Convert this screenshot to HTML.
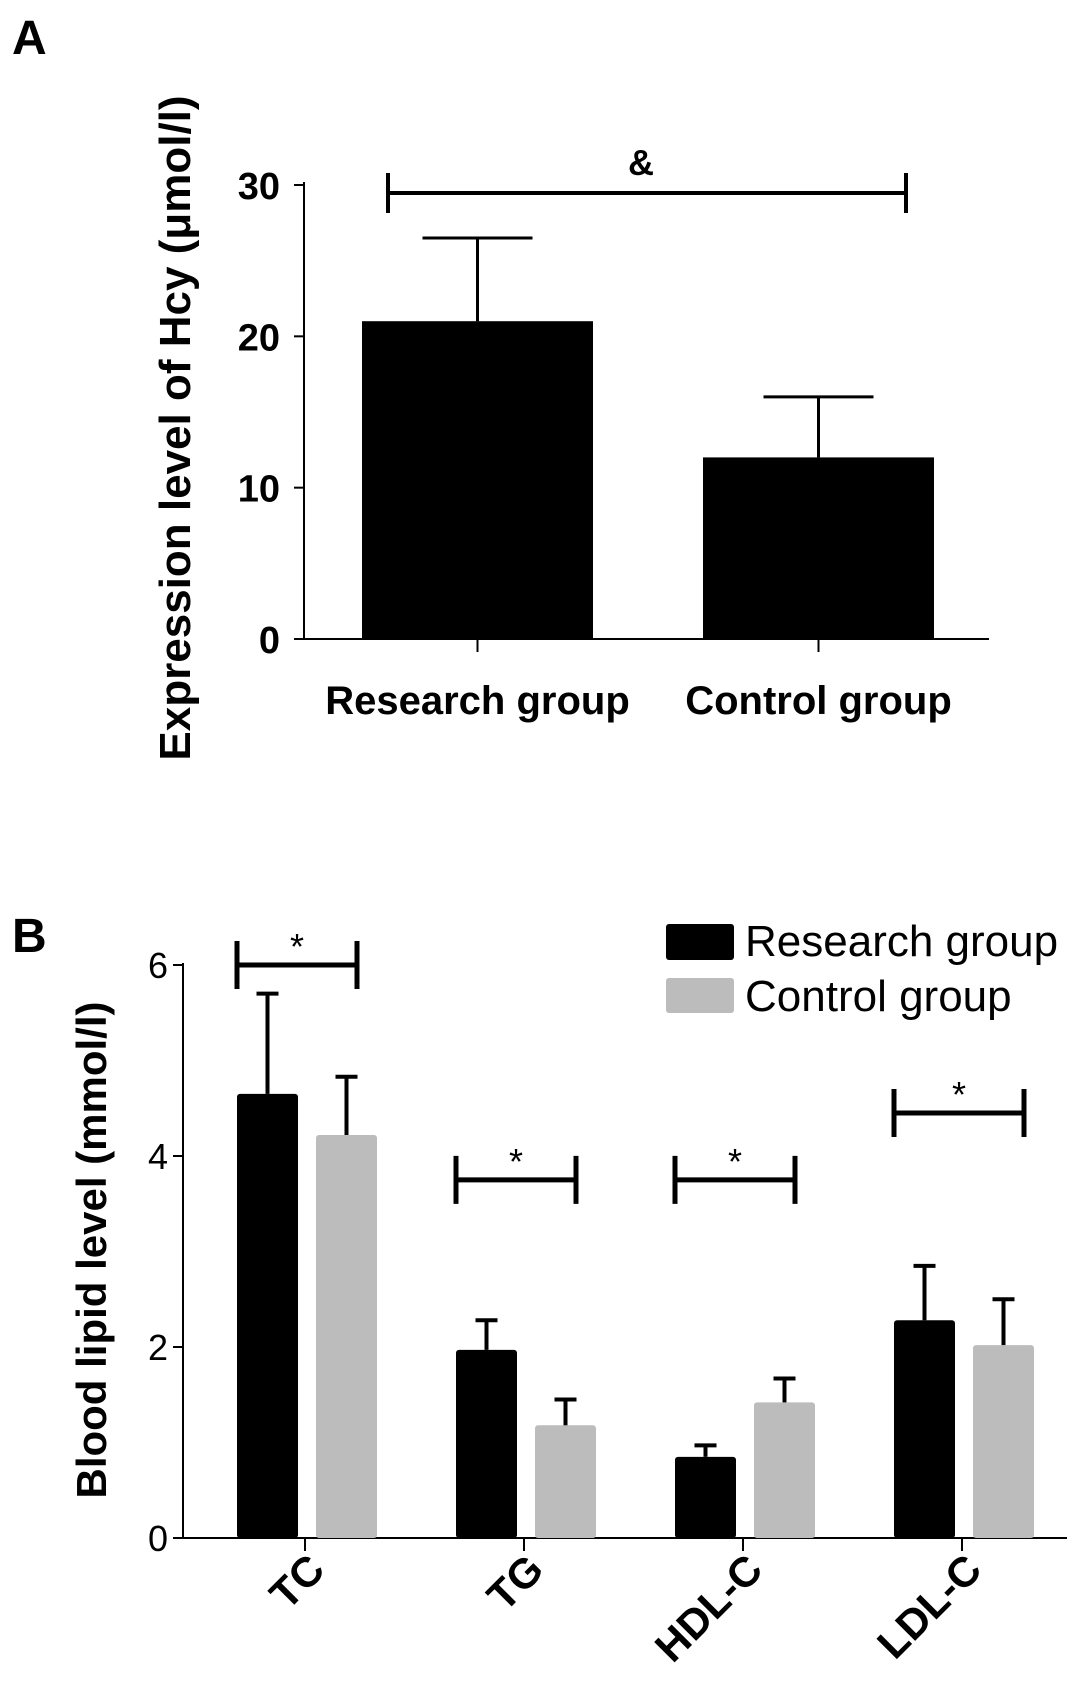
<!DOCTYPE html>
<html><head><meta charset="utf-8"><style>
html,body{margin:0;padding:0;background:#fff;}
svg{display:block;font-family:"Liberation Sans",sans-serif;}
</style></head><body>
<svg id="chart" width="1087" height="1701" viewBox="0 0 1087 1701" xmlns="http://www.w3.org/2000/svg">
<text x="12" y="54" font-size="48" font-weight="bold">A</text>
<text x="12" y="952" font-size="48" font-weight="bold">B</text>
<g id="pa"></g>
<g id="pb"></g>
</svg>
<script>
const aCategories = ["Research group", "Control group"];
const aValues = [21, 12];
const aErrors = [26.5, 16];
const aTicks = [0, 10, 20, 30];

const bCategories = ["TC", "TG", "HDL-C", "LDL-C"];
const bResearch = [4.65, 1.97, 0.85, 2.28];
const bResearchErr = [5.7, 2.28, 0.97, 2.85];
const bControl = [4.22, 1.18, 1.42, 2.02];
const bControlErr = [4.83, 1.45, 1.67, 2.5];
const bTicks = [0, 2, 4, 6];
const bSigLevels = [6.0, 3.75, 3.75, 4.45];

const NS = "http://www.w3.org/2000/svg";
function mk(parent, tag, attrs, text) {
  const e = document.createElementNS(NS, tag);
  for (const k in attrs) e.setAttribute(k, attrs[k]);
  if (text !== undefined) e.textContent = text;
  parent.appendChild(e);
  return e;
}

// Panel A
const pa = document.getElementById("pa");
const ayA = v => 639 - v * (639 - 185) / 30;
const aLeft = [362, 703], aW = 231;
let e = mk(pa, "line", {x1: 304, y1: 182, x2: 304, y2: 639, stroke: "#000", "stroke-width": 2});


e = mk(pa, "line", {x1: 294, y1: 639, x2: 989, y2: 639, stroke: "#000", "stroke-width": 2});


aTicks.forEach(t => {
  const y = ayA(t);
  mk(pa, "line", {x1: 294, y1: y, x2: 304, y2: y, stroke: "#000", "stroke-width": 2});
  e = mk(pa, "text", {x: 280, y: y + 14, "font-size": 38, "font-weight": "bold", "text-anchor": "end"}, t);
  
  
});
aCategories.forEach((c, i) => {
  const x = aLeft[i], cx = x + aW / 2;
  e = mk(pa, "rect", {x: x, y: ayA(aValues[i]), width: aW, height: ayA(0) - ayA(aValues[i]), fill: "#000"});
  
  
  mk(pa, "line", {x1: cx, y1: ayA(aValues[i]), x2: cx, y2: ayA(aErrors[i]), stroke: "#000", "stroke-width": 3});
  mk(pa, "line", {x1: cx - 55, y1: ayA(aErrors[i]), x2: cx + 55, y2: ayA(aErrors[i]), stroke: "#000", "stroke-width": 3});
  mk(pa, "line", {x1: cx, y1: 639, x2: cx, y2: 652, stroke: "#000", "stroke-width": 2});
  e = mk(pa, "text", {x: cx, y: 714, "font-size": 40, "font-weight": "bold", "text-anchor": "middle"}, c);
  
  
});
e = mk(pa, "path", {d: "M388 193 L906 193 M388 173 L388 213 M906 173 L906 213", stroke: "#000", "stroke-width": 4, fill: "none"});


mk(pa, "text", {x: 641, y: 175, "font-size": 36, "font-weight": "bold", "text-anchor": "middle"}, "&");
e = mk(pa, "text", {x: 0, y: 0, "font-size": 44, "font-weight": "bold", "text-anchor": "middle", transform: "translate(190,428) rotate(-90)"}, "Expression level of Hcy  (μmol/l)");



// Panel B
const pb = document.getElementById("pb");
const ayB = v => 1538 - v * (1538 - 965) / 6;
const groupX = [305, 524, 743, 962];
const bw = 61;
e = mk(pb, "line", {x1: 183, y1: 963, x2: 183, y2: 1538, stroke: "#000", "stroke-width": 2});


e = mk(pb, "line", {x1: 173, y1: 1538, x2: 1067, y2: 1538, stroke: "#000", "stroke-width": 2});


bTicks.forEach(t => {
  const y = ayB(t);
  mk(pb, "line", {x1: 173, y1: y, x2: 183, y2: y, stroke: "#000", "stroke-width": 2});
  e = mk(pb, "text", {x: 168, y: y + 13, "font-size": 36, "text-anchor": "end"}, t);
  
  
});
function errBar(cx, v, ev) {
  mk(pb, "line", {x1: cx, y1: ayB(v), x2: cx, y2: ayB(ev), stroke: "#000", "stroke-width": 4});
  mk(pb, "line", {x1: cx - 11, y1: ayB(ev), x2: cx + 11, y2: ayB(ev), stroke: "#000", "stroke-width": 4});
}
bCategories.forEach((c, i) => {
  const gx = groupX[i];
  const xr = gx - 68, xc = gx + 11;
  e = mk(pb, "rect", {x: xr, y: ayB(bResearch[i]), width: bw, height: ayB(0) - ayB(bResearch[i]), fill: "#000", rx: 3});
  
  
  errBar(xr + bw / 2, bResearch[i], bResearchErr[i]);
  e = mk(pb, "rect", {x: xc, y: ayB(bControl[i]), width: bw, height: ayB(0) - ayB(bControl[i]), fill: "#bcbcbc", rx: 3});
  
  
  errBar(xc + bw / 2, bControl[i], bControlErr[i]);
  mk(pb, "line", {x1: gx, y1: 1538, x2: gx, y2: 1551, stroke: "#000", "stroke-width": 2});
  e = mk(pb, "text", {x: 0, y: 0, "font-size": 42, "font-weight": "bold", "text-anchor": "end", transform: `translate(${gx + 22},1572) rotate(-45)`}, c);
  
  
  const sy = ayB(bSigLevels[i]);
  const x1 = gx - 68, x2 = gx + (i === 3 ? 62 : 52);
  e = mk(pb, "path", {d: `M${x1} ${sy} L${x2} ${sy} M${x1} ${sy - 24} L${x1} ${sy + 24} M${x2} ${sy - 24} L${x2} ${sy + 24}`, stroke: "#000", "stroke-width": 5, fill: "none"});
  
  
  mk(pb, "text", {x: (x1 + x2) / 2, y: sy - 6, "font-size": 36, "text-anchor": "middle"}, "*");
});
e = mk(pb, "text", {x: 0, y: 0, "font-size": 42, "font-weight": "bold", "text-anchor": "middle", transform: "translate(106,1250) rotate(-90)"}, "Blood lipid level (mmol/l)");


e = mk(pb, "rect", {x: 666, y: 924, width: 68, height: 36, fill: "#000", rx: 3});


e = mk(pb, "text", {x: 745, y: 956, "font-size": 44}, "Research group");


e = mk(pb, "rect", {x: 666, y: 978, width: 68, height: 35, fill: "#bcbcbc", rx: 3});


e = mk(pb, "text", {x: 745, y: 1011, "font-size": 44}, "Control group");


</script>
</body></html>
